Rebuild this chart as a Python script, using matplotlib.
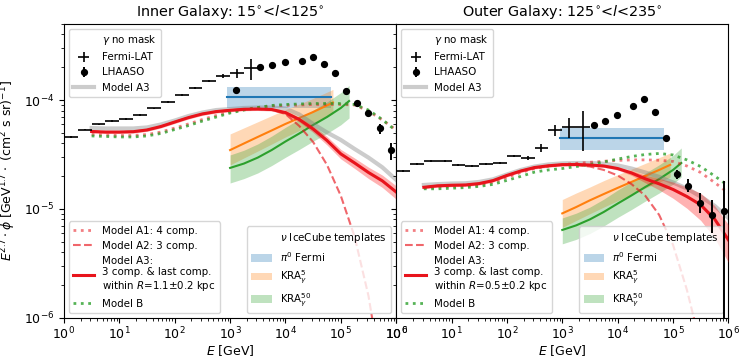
import numpy as np
import matplotlib
matplotlib.use("Agg")
import matplotlib.pyplot as plt
from matplotlib.lines import Line2D
from matplotlib.patches import Patch

# ---------------- data ----------------
E_model = [3.16, 5.62, 10, 17.8, 31.6, 56.2, 100, 178, 316, 562, 1000, 1780, 3160, 5620,
           1.0e4, 1.78e4, 3.16e4, 5.62e4, 1.0e5, 1.78e5, 3.16e5, 5.62e5, 1.0e6]

# Inner galaxy
A3_inner = [5.14e-5, 5.08e-5, 5.08e-5, 5.12e-5, 5.31e-5, 5.71e-5, 6.28e-5, 6.90e-5, 7.45e-5, 7.83e-5,
            8.05e-5, 8.22e-5, 8.26e-5, 8.18e-5, 7.67e-5, 6.62e-5, 5.42e-5, 4.25e-5, 3.20e-5, 2.64e-5,
            2.16e-5, 1.81e-5, 1.43e-5]
A3_inner_relerr = [0.03, 0.03, 0.03, 0.03, 0.03, 0.03, 0.03, 0.03, 0.03, 0.03, 0.03, 0.03, 0.03, 0.03,
                   0.04, 0.05, 0.07, 0.09, 0.10, 0.11, 0.12, 0.13, 0.14]
A3gamma_inner = [5.53e-5, 5.48e-5, 5.48e-5, 5.48e-5, 5.60e-5, 5.96e-5, 6.48e-5, 7.13e-5, 7.67e-5, 8.09e-5,
                 8.26e-5, 8.45e-5, 8.53e-5, 8.53e-5, 8.36e-5, 7.36e-5, 6.03e-5, 5.04e-5, 4.30e-5, 3.55e-5,
                 2.96e-5, 2.41e-5, 1.85e-5]
A2_inner = [5.14e-5, 5.08e-5, 5.08e-5, 5.12e-5, 5.31e-5, 5.71e-5, 6.28e-5, 6.90e-5, 7.45e-5, 7.83e-5,
            8.05e-5, 8.22e-5, 8.26e-5, 8.18e-5, 7.45e-5, 5.77e-5, 4.12e-5, 2.54e-5, 1.32e-5, 5.53e-6,
            1.59e-6, 2.7e-7]
A1_inner = [4.82e-5, 4.77e-5, 4.72e-5, 4.72e-5, 4.82e-5, 5.08e-5, 5.53e-5, 6.03e-5, 6.62e-5, 7.21e-5,
            7.76e-5, 8.18e-5, 8.53e-5, 8.81e-5, 8.91e-5, 9.00e-5, 9.10e-5, 9.10e-5, 9.10e-5, 9.00e-5,
            7.92e-5, 6.56e-5, 5.31e-5]
B_inner = [4.68e-5, 4.63e-5, 4.58e-5, 4.58e-5, 4.68e-5, 4.93e-5, 5.36e-5, 5.83e-5, 6.41e-5, 6.98e-5,
           7.60e-5, 8.09e-5, 8.53e-5, 8.91e-5, 9.10e-5, 9.19e-5, 9.29e-5, 9.29e-5, 9.29e-5, 9.10e-5,
           8.09e-5, 6.62e-5, 5.20e-5]

# Outer galaxy
A3_outer = [1.58e-5, 1.63e-5, 1.65e-5, 1.66e-5, 1.71e-5, 1.82e-5, 2.03e-5, 2.23e-5, 2.40e-5, 2.49e-5,
            2.55e-5, 2.56e-5, 2.53e-5, 2.48e-5, 2.35e-5, 2.14e-5, 1.89e-5, 1.70e-5, 1.51e-5, 1.30e-5,
            1.09e-5, 8.09e-6, 5.20e-6]
A3_outer_relerr = [0.03, 0.03, 0.03, 0.03, 0.03, 0.03, 0.03, 0.03, 0.03, 0.03, 0.03, 0.03, 0.03, 0.03,
                   0.03, 0.05, 0.08, 0.12, 0.17, 0.22, 0.28, 0.33, 0.38]
A3gamma_outer = [1.66e-5, 1.69e-5, 1.71e-5, 1.72e-5, 1.77e-5, 1.87e-5, 2.07e-5, 2.28e-5, 2.45e-5, 2.56e-5,
                 2.62e-5, 2.64e-5, 2.64e-5, 2.60e-5, 2.51e-5, 2.35e-5, 2.16e-5, 1.97e-5, 1.75e-5, 1.54e-5,
                 1.30e-5, 1.07e-5, 8.26e-6]
A2_outer = [1.58e-5, 1.63e-5, 1.65e-5, 1.66e-5, 1.71e-5, 1.82e-5, 2.03e-5, 2.23e-5, 2.40e-5, 2.49e-5,
            2.55e-5, 2.53e-5, 2.45e-5, 2.28e-5, 2.03e-5, 1.69e-5, 1.32e-5, 8.81e-6, 4.68e-6, 1.81e-6,
            5.6e-7]
A1_outer = [1.56e-5, 1.59e-5, 1.62e-5, 1.63e-5, 1.66e-5, 1.75e-5, 1.95e-5, 2.16e-5, 2.35e-5, 2.47e-5,
            2.55e-5, 2.62e-5, 2.68e-5, 2.74e-5, 2.79e-5, 2.82e-5, 2.82e-5, 2.80e-5, 2.73e-5, 2.48e-5,
            2.16e-5, 1.75e-5, 1.40e-5]
B_outer = [1.53e-5, 1.53e-5, 1.55e-5, 1.57e-5, 1.61e-5, 1.68e-5, 1.83e-5, 1.99e-5, 2.18e-5, 2.28e-5,
           2.35e-5, 2.45e-5, 2.56e-5, 2.70e-5, 2.87e-5, 3.03e-5, 3.16e-5, 3.23e-5, 3.13e-5, 2.82e-5,
           2.45e-5, 2.01e-5, 1.63e-5]

# IceCube templates
pi0_inner_E = [883, 6.7e4]
pi0_inner = [1.07e-4, 1.07e-4]
pi0_inner_lo = [8.45e-5, 8.45e-5]
pi0_inner_hi = [1.31e-4, 1.31e-4]
pi0_outer_E = [912, 6.9e4]
pi0_outer = [4.51e-5, 4.51e-5]
pi0_outer_lo = [3.47e-5, 3.47e-5]
pi0_outer_hi = [5.57e-5, 5.57e-5]

kra5_inner_E = [1000, 1780, 3160, 5620, 1.0e4, 1.78e4, 3.16e4, 5.62e4, 7.2e4]
kra5_inner = [3.47e-5, 3.99e-5, 4.58e-5, 5.25e-5, 6.03e-5, 6.84e-5, 7.76e-5, 8.91e-5, 9.49e-5]
kra5_inner_hi = [4.88e-5, 5.55e-5, 6.31e-5, 7.18e-5, 8.17e-5, 9.19e-5, 1.035e-4, 1.18e-4, 1.25e-4]
kra5_inner_lo = [2.54e-5, 2.94e-5, 3.40e-5, 3.94e-5, 4.58e-5, 5.25e-5, 6.03e-5, 7.01e-5, 7.51e-5]

kra50_inner_E = [1000, 1780, 3160, 5620, 1.0e4, 1.78e4, 3.16e4, 5.62e4, 1.0e5, 1.41e5]
kra50_inner = [2.38e-5, 2.61e-5, 2.96e-5, 3.47e-5, 4.16e-5, 4.93e-5, 5.90e-5, 6.98e-5, 8.45e-5, 9.79e-5]
kra50_inner_hi = [3.13e-5, 3.46e-5, 3.95e-5, 4.66e-5, 5.61e-5, 6.68e-5, 8.05e-5, 9.59e-5, 1.17e-4, 1.36e-4]
kra50_inner_lo = [1.73e-5, 1.90e-5, 2.14e-5, 2.50e-5, 2.98e-5, 3.52e-5, 4.19e-5, 4.93e-5, 5.93e-5, 6.84e-5]

kra5_outer_E = [1000, 1780, 3160, 5620, 1.0e4, 1.78e4, 3.16e4, 5.62e4, 8.9e4]
kra5_outer = [9.10e-6, 1.04e-5, 1.20e-5, 1.37e-5, 1.56e-5, 1.77e-5, 2.01e-5, 2.28e-5, 2.54e-5]
kra5_outer_hi = [1.22e-5, 1.40e-5, 1.59e-5, 1.82e-5, 2.06e-5, 2.32e-5, 2.62e-5, 2.96e-5, 3.26e-5]
kra5_outer_lo = [6.76e-6, 7.83e-6, 9.04e-6, 1.04e-5, 1.19e-5, 1.36e-5, 1.55e-5, 1.76e-5, 1.97e-5]

kra50_outer_E = [1000, 1780, 3160, 5620, 1.0e4, 1.78e4, 3.16e4, 5.62e4, 1.0e5, 1.41e5]
kra50_outer = [6.41e-6, 7.06e-6, 8.02e-6, 9.38e-6, 1.12e-5, 1.33e-5, 1.59e-5, 1.88e-5, 2.28e-5, 2.64e-5]
kra50_outer_hi = [8.26e-6, 9.14e-6, 1.04e-5, 1.23e-5, 1.49e-5, 1.77e-5, 2.13e-5, 2.54e-5, 3.09e-5, 3.63e-5]
kra50_outer_lo = [4.78e-6, 5.25e-6, 5.96e-6, 6.98e-6, 8.35e-6, 9.88e-6, 1.18e-5, 1.40e-5, 1.69e-5, 1.97e-5]

# Fermi-LAT (bin edges in GeV)
fermi_edges = [1.0, 1.78, 3.16, 5.62, 10, 17.8, 31.6, 56.2, 100, 178, 316, 562, 1000, 1780, 3160]
fermi_inner = [4.58e-5, 5.36e-5, 5.96e-5, 6.41e-5, 6.69e-5, 7.28e-5, 8.36e-5, 9.68e-5, 1.12e-4, 1.29e-4,
               1.49e-4, 1.66e-4, 1.76e-4, 1.97e-4]
fermi_inner_relerr = [0.02, 0.02, 0.02, 0.02, 0.02, 0.02, 0.02, 0.02, 0.02, 0.02, 0.02, 0.04, 0.09, 0.22]
fermi_outer = [2.23e-5, 2.59e-5, 2.75e-5, 2.73e-5, 2.53e-5, 2.48e-5, 2.59e-5, 2.64e-5, 3.06e-5, 2.94e-5,
               3.63e-5, 5.31e-5, 5.65e-5, 5.71e-5]
fermi_outer_relerr = [0.02, 0.02, 0.02, 0.02, 0.02, 0.02, 0.02, 0.02, 0.02, 0.04, 0.09, 0.12, 0.20, 0.40]

# LHAASO
lhaaso_inner_E = [1285, 3480, 5680, 9860, 1.98e4, 3.21e4, 5.0e4, 7.91e4, 1.23e5, 2.0e5, 3.16e5, 5.14e5, 8.04e5]
lhaaso_inner = [1.24e-4, 2.00e-4, 2.09e-4, 2.25e-4, 2.28e-4, 2.47e-4, 2.14e-4, 1.76e-4, 1.22e-4, 9.45e-5,
                7.55e-5, 5.48e-5, 3.47e-5]
lhaaso_inner_up = [0.03, 0.03, 0.03, 0.03, 0.03, 0.03, 0.03, 0.03, 0.03, 0.03, 0.04, 0.11, 0.16]
lhaaso_inner_dn = [0.03, 0.03, 0.03, 0.03, 0.03, 0.03, 0.03, 0.03, 0.03, 0.03, 0.04, 0.11, 0.19]
lhaaso_outer_E = [3740, 5830, 9890, 1.89e4, 2.94e4, 4.70e4, 7.41e4, 1.20e5, 1.90e5, 3.13e5, 5.08e5, 8.22e5]
lhaaso_outer = [5.90e-5, 6.41e-5, 7.24e-5, 8.81e-5, 1.02e-4, 7.82e-5, 4.45e-5, 2.09e-5, 1.63e-5, 1.14e-5,
                8.8e-6, 9.6e-6]
lhaaso_outer_up = [0.03, 0.03, 0.03, 0.03, 0.03, 0.03, 0.03, 0.09, 0.15, 0.23, 0.37, 0.89]
lhaaso_outer_dn = [0.03, 0.03, 0.03, 0.03, 0.03, 0.03, 0.03, 0.09, 0.13, 0.20, 0.32, 0.999]

titles = [r"Inner Galaxy: 15$^{\circ}$<$l$<125$^{\circ}$", r"Outer Galaxy: 125$^{\circ}$<$l$<235$^{\circ}$"]
radius_labels = [r"1.1", r"0.5"]

# ---------------- plot ----------------
FS_TICK = 9
FS_LEG = 7.4
fig, axes = plt.subplots(1, 2, figsize=(7.44, 3.62), dpi=100, sharey=True)
fig.subplots_adjust(left=0.086, right=0.979, bottom=0.122, top=0.934, wspace=0)

panels = [
    dict(A3=A3_inner, A3e=A3_inner_relerr, A3g=A3gamma_inner, A2=A2_inner, A1=A1_inner, B=B_inner,
         pi0E=pi0_inner_E, pi0=pi0_inner, pi0lo=pi0_inner_lo, pi0hi=pi0_inner_hi,
         k5E=kra5_inner_E, k5=kra5_inner, k5lo=kra5_inner_lo, k5hi=kra5_inner_hi,
         k50E=kra50_inner_E, k50=kra50_inner, k50lo=kra50_inner_lo, k50hi=kra50_inner_hi,
         fermi=fermi_inner, fermie=fermi_inner_relerr,
         lhE=lhaaso_inner_E, lh=lhaaso_inner, lhup=lhaaso_inner_up, lhdn=lhaaso_inner_dn),
    dict(A3=A3_outer, A3e=A3_outer_relerr, A3g=A3gamma_outer, A2=A2_outer, A1=A1_outer, B=B_outer,
         pi0E=pi0_outer_E, pi0=pi0_outer, pi0lo=pi0_outer_lo, pi0hi=pi0_outer_hi,
         k5E=kra5_outer_E, k5=kra5_outer, k5lo=kra5_outer_lo, k5hi=kra5_outer_hi,
         k50E=kra50_outer_E, k50=kra50_outer, k50lo=kra50_outer_lo, k50hi=kra50_outer_hi,
         fermi=fermi_outer, fermie=fermi_outer_relerr,
         lhE=lhaaso_outer_E, lh=lhaaso_outer, lhup=lhaaso_outer_up, lhdn=lhaaso_outer_dn),
]

edges = np.array(fermi_edges)
fcent = np.sqrt(edges[:-1] * edges[1:])
fxerr = [fcent - edges[:-1], edges[1:] - fcent]

for i, (ax, p) in enumerate(zip(axes, panels)):
    Em = np.array(E_model)
    # IceCube templates
    ax.fill_between(p['pi0E'], p['pi0lo'], p['pi0hi'], color='tab:blue', alpha=0.3, lw=0, zorder=1)
    ax.plot(p['pi0E'], p['pi0'], color='tab:blue', lw=1.5, zorder=2)
    ax.fill_between(p['k5E'], p['k5lo'], p['k5hi'], color='tab:orange', alpha=0.3, lw=0, zorder=1)
    ax.plot(p['k5E'], p['k5'], color='tab:orange', lw=1.5, zorder=2)
    ax.fill_between(p['k50E'], p['k50lo'], p['k50hi'], color='tab:green', alpha=0.3, lw=0, zorder=1)
    ax.plot(p['k50E'], p['k50'], color='tab:green', lw=1.5, zorder=2)

    # gamma model A3
    lg, = ax.plot(Em, p['A3g'], color='grey', lw=3, alpha=0.4, zorder=3)
    # neutrino models
    A3 = np.array(p['A3'])
    e3 = np.array(p['A3e'])
    ax.fill_between(Em, A3 * (1 - e3), A3 * (1 + e3), color='red', alpha=0.3, lw=0, zorder=3)
    l3, = ax.plot(Em, A3, color='#e8141c', lw=2.2, zorder=5)
    l2, = ax.plot(Em[:len(p['A2'])], p['A2'], color='#e8141c', lw=1.5, ls='--', alpha=0.65, zorder=4)
    l1, = ax.plot(Em, p['A1'], color='#e8141c', lw=2, ls=':', alpha=0.55, zorder=4)
    lb, = ax.plot(Em, p['B'], color='tab:green', lw=2, ls=':', alpha=0.8, zorder=4)

    # data
    f = np.array(p['fermi'])
    fe = np.array(p['fermie'])
    hf = ax.errorbar(fcent, f, xerr=fxerr, yerr=f * fe, fmt='none', ecolor='black', elinewidth=1.2,
                     zorder=6)
    lh = np.array(p['lh'])
    hl = ax.errorbar(p['lhE'], lh, yerr=[lh * np.array(p['lhdn']), lh * np.array(p['lhup'])], fmt='o',
                     color='black', ms=4.2, elinewidth=1.4, zorder=7)

    ax.set_xscale('log')
    ax.set_yscale('log')
    ax.set_xlim(1, 1e6)
    ax.set_ylim(1e-6, 5e-4)
    ax.set_xticks([1, 10, 100, 1e3, 1e4, 1e5, 1e6])
    ax.tick_params(labelsize=FS_TICK)
    ax.tick_params(axis='x', pad=2)
    ax.set_xlabel(r"$E$ [GeV]", fontsize=FS_TICK, labelpad=1)
    ax.set_title(titles[i], fontsize=10.4)

    # legends
    dummy = Line2D([], [], ls='none', color='none')
    leg1 = ax.legend([dummy, hf, hl, lg], [r"$\gamma$ no mask", "Fermi-LAT", "LHAASO", "Model A3"],
                     loc='upper left', fontsize=FS_LEG)
    ax.add_artist(leg1)
    a3label = "Model A3:\n3 comp. & last comp.\nwithin $R$=" + radius_labels[i] + "\u00b10.2 kpc"
    leg2 = ax.legend([l1, l2, l3, lb], ["Model A1: 4 comp.", "Model A2: 3 comp.", a3label, "Model B"],
                     loc='lower left', fontsize=FS_LEG)
    ax.add_artist(leg2)
    patches = [Line2D([], [], ls='none', color='none'),
               Patch(facecolor='tab:blue', alpha=0.3),
               Patch(facecolor='tab:orange', alpha=0.3),
               Patch(facecolor='tab:green', alpha=0.3)]
    ax.legend(patches, [r"$\nu$ IceCube templates", r"$\pi^0$ Fermi", r"KRA$_\gamma^5$",
                        r"KRA$_\gamma^{50}$"], loc='lower right', fontsize=FS_LEG)

axes[0].set_ylabel(r"$E^{2.7}\cdot\phi$ [GeV$^{1.7}\cdot$ (cm$^2$ s sr)$^{-1}$]", fontsize=FS_TICK)

fig.savefig("out.png", dpi=100)
